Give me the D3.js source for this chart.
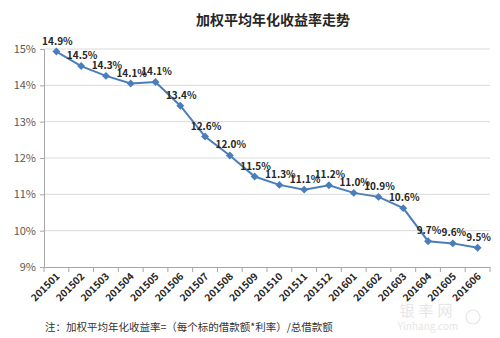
<!DOCTYPE html>
<html><head><meta charset="utf-8">
<script src="https://cdn.jsdelivr.net/npm/d3@7"></script>
<style>body{margin:0;background:#fff}svg{display:block}</style>
</head><body>
<script>
const categories = ["201501","201502","201503","201504","201505","201506","201507","201508","201509","201510","201511","201512","201601","201602","201603","201604","201605","201606"];
const values = [14.93,14.53,14.26,14.05,14.09,13.44,12.59,12.07,11.49,11.26,11.13,11.25,11.04,10.93,10.62,9.71,9.65,9.53];
const labels = ["14.9%","14.5%","14.3%","14.1%","14.1%","13.4%","12.6%","12.0%","11.5%","11.3%","11.1%","11.2%","11.0%","10.9%","10.6%","9.7%","9.6%","9.5%"];
const yTicks = [9,10,11,12,13,14,15];
const title = "加权平均年化收益率走势";
const note = "注：加权平均年化收益率=（每个标的借款额*利率）/总借款额";

const W = 500, H = 338;
const svg = d3.select("body").append("svg").attr("width", W).attr("height", H);
const font = "'Microsoft YaHei','Noto Sans CJK SC','Noto Sans',sans-serif";

const x = d3.scaleBand().domain(categories).range([44, 490]);
const y = d3.scaleLinear().domain([9, 15]).range([267, 49]);

// gridlines
svg.append("g").selectAll("line").data(yTicks.filter(d => d > 9)).join("line")
  .attr("x1", 44).attr("x2", 490)
  .attr("y1", d => y(d)).attr("y2", d => y(d))
  .attr("stroke", "#d9d9d9").attr("stroke-width", 1);

// y axis
const yAxis = svg.append("g").attr("transform", "translate(44,0)")
  .call(d3.axisLeft(y).tickValues(yTicks).tickFormat(d => d + "%").tickSize(4).tickPadding(4));
yAxis.select(".domain").attr("stroke", "#a6a6a6");
yAxis.selectAll(".tick line").attr("stroke", "#a6a6a6");
yAxis.selectAll("text").attr("fill", "#595959").attr("font-size", 11).attr("font-family", font);

// x axis
const xAxis = svg.append("g").attr("transform", "translate(0,267)")
  .call(d3.axisBottom(x).tickSize(0).tickSizeOuter(0));
xAxis.select(".domain").attr("stroke", "#a6a6a6");
xAxis.selectAll(".tick line").remove();
xAxis.append("g").selectAll("line").data(categories.concat(["_end"])).join("line")
  .attr("x1", (d, i) => i < categories.length ? x(d) : x.range()[1])
  .attr("x2", (d, i) => i < categories.length ? x(d) : x.range()[1])
  .attr("y1", 0).attr("y2", 5).attr("stroke", "#a6a6a6");
xAxis.selectAll(".tick text")
  .attr("fill", "#262626").attr("font-size", 10).attr("font-weight", "bold").attr("font-family", font)
  .attr("text-anchor", "end").attr("dy", null).attr("y", 0)
  .attr("transform", "translate(4,10) rotate(-45)");

// line
const line = d3.line().x((d, i) => x(categories[i]) + x.bandwidth() / 2).y(d => y(d));
svg.append("path").datum(values).attr("d", line)
  .attr("fill", "none").attr("stroke", "#4a7ebb").attr("stroke-width", 2);

// markers
svg.append("g").selectAll("path").data(values).join("path")
  .attr("d", d3.symbol().type(d3.symbolDiamond2).size(40))
  .attr("transform", (d, i) => `translate(${x(categories[i]) + x.bandwidth() / 2},${y(d)})`)
  .attr("fill", "#4a7ebb");

// labels
svg.append("g").selectAll("text").data(values).join("text")
  .attr("x", (d, i) => x(categories[i]) + x.bandwidth() / 2 + 1)
  .attr("y", d => y(d) - 7)
  .attr("text-anchor", "middle")
  .attr("font-size", 10).attr("font-weight", "bold").attr("font-family", font)
  .attr("fill", "#262626")
  .text((d, i) => labels[i]);

// title
svg.append("text").attr("x", 273).attr("y", 25).attr("text-anchor", "middle")
  .attr("font-size", 14).attr("font-weight", "bold").attr("font-family", font)
  .attr("fill", "#262626").text(title);

// note
svg.append("text").attr("x", 45).attr("y", 331)
  .attr("font-size", 10.5).attr("font-family", font).attr("fill", "#333").text(note);

// watermark
svg.append("text").attr("x", 428).attr("y", 316).attr("text-anchor", "middle")
  .attr("font-size", 15).attr("font-family", font).attr("fill", "#e6e6e6").attr("letter-spacing", 4).text("银率网");
svg.append("text").attr("x", 428).attr("y", 330).attr("text-anchor", "middle")
  .attr("font-size", 10).attr("font-family", font).attr("fill", "#e6e6e6").text("Yinhang.com");
svg.append("circle").attr("cx", 473).attr("cy", 317).attr("r", 7)
  .attr("fill", "none").attr("stroke", "#e6e6e6").attr("stroke-width", 1.2);
</script>
</body></html>
